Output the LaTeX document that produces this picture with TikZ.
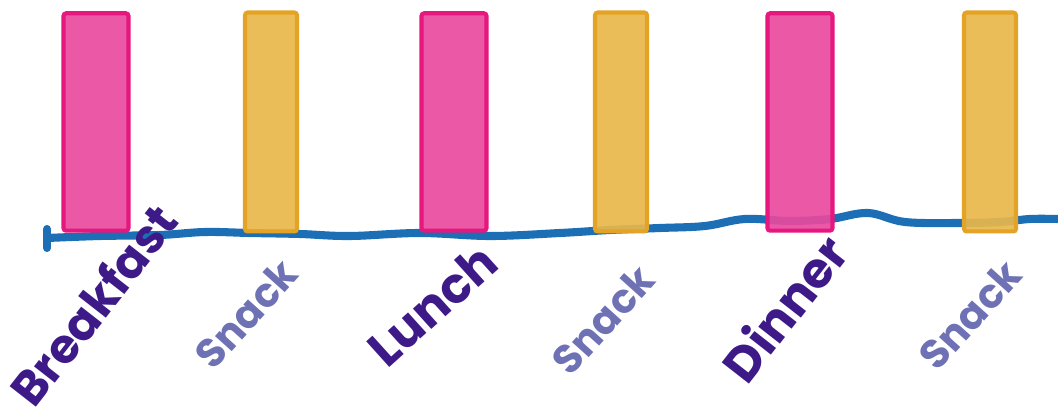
\documentclass[tikz,border=0pt]{standalone}
\usepackage{fontspec}
\setmainfont{Poppins}
\usepackage{xcolor}
\definecolor{MealPink}{HTML}{E84A9E}
\definecolor{MealPinkEdge}{HTML}{E6177F}
\definecolor{SnackGold}{HTML}{E9B74A}
\definecolor{SnackGoldEdge}{HTML}{E3A326}
\definecolor{DayBlue}{HTML}{1C6FB5}
\definecolor{MealInk}{HTML}{3D1A87}
\definecolor{SnackInk}{HTML}{6E72B5}

\begin{document}
\begin{tikzpicture}[x=0.02cm,y=-0.02cm,
  bar/.style={draw,line width=2.3pt,rounded corners=1.5pt,inner sep=0pt,
    fill opacity=0.92},
  meal/.style={bar,draw=MealPinkEdge,fill=MealPink,
    minimum width=1.3cm,minimum height=4.35cm},
  snack/.style={bar,draw=SnackGoldEdge,fill=SnackGold,
    minimum width=1.04cm,minimum height=4.38cm},
  day/.style={DayBlue,line width=4.6pt,line cap=round},
  mlab/.style={font=\fontsize{28}{28}\selectfont\bfseries,text=MealInk,
    rotate=52,inner sep=0pt},
  slab/.style={font=\fontsize{23}{23}\selectfont\bfseries,text=SnackInk,
    rotate=48,inner sep=0pt}]
  \useasboundingbox (0,0) rectangle (1058,418);
  % the day, left to right
  \coordinate (d0) at (47,238);
  \coordinate (d1) at (1058,219);
  \draw[day] (d0) plot[smooth,tension=0.6] coordinates {(47,238) (100,236)
    (160,235) (205,232) (250,233) (300,234) (350,236) (420,233) (490,236)
    (560,233) (610,230) (660,228) (705,226) (745,219) (790,221) (830,219)
    (868,213) (905,222) (960,223) (1000,222) (1030,219) (1058,219)};
  \draw[day] (47,229) -- (47,248);
  % the bars
  \node[meal]  (B)  at ( 96,122) {};
  \node[snack] (S1) at (271,122) {};
  \node[meal]  (L)  at (454,122) {};
  \node[snack] (S2) at (621,122) {};
  \node[meal]  (D)  at (800,122) {};
  \node[snack] (S3) at (990,122) {};
  % the names
  \node[mlab,font=\fontsize{27}{27}\selectfont\bfseries] (Bt) at (93,305) {Breakfast};
  \node[slab] (S1t) at (246,314) {Snack};
  \node[mlab,rotate=-10] (Lt) at (432,305) {Lunch};
  \node[slab] (S2t) at (603,320) {Snack};
  \node[mlab] (Dt)  at (784,308) {Dinner};
  \node[slab] (S3t) at (970,315) {Snack};
\end{tikzpicture}
\end{document}
